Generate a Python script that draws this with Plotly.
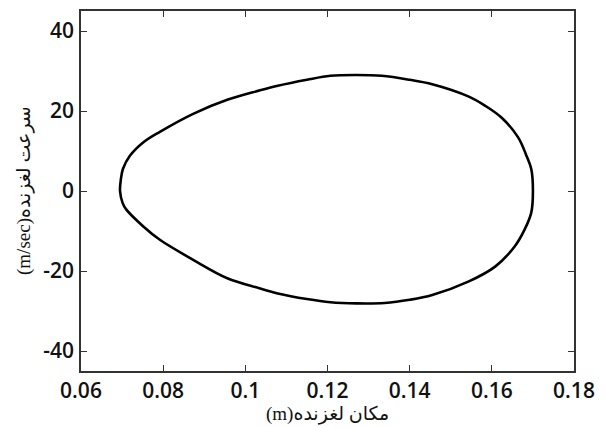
import plotly.graph_objects as go

# Phase portrait data (slider position [m], slider velocity [m/s])
position = [0.0695, 0.0697, 0.0702, 0.0719, 0.0752, 0.0792, 0.0873, 0.0956, 0.1034, 0.1079,
            0.1150, 0.1207, 0.1270, 0.1332, 0.1400, 0.1455, 0.1544, 0.1584, 0.1624, 0.1664,
            0.1684, 0.1696, 0.1700, 0.1696, 0.1680, 0.1656, 0.1608, 0.1544, 0.1455, 0.1400,
            0.1339, 0.1270, 0.1207, 0.1150, 0.1079, 0.1034, 0.0956, 0.0873, 0.0792, 0.0751,
            0.0710, 0.0701, 0.0695]
velocity = [0, 2.9, 5.5, 8.8, 12.2, 14.8, 19.3, 22.8, 25.1, 26.3,
            27.8, 28.8, 29.0, 28.8, 27.8, 26.7, 23.6, 21.3, 18.3, 13.4,
            8.9, 5.5, 0, -5.4, -9.6, -13.8, -18.9, -22.6, -26.0, -27.2,
            -28.0, -28.1, -27.8, -27.0, -25.6, -24.3, -21.8, -17.2, -12.2, -8.8,
            -4.6, -2.9, 0]

x_ticks = [0.06, 0.08, 0.1, 0.12, 0.14, 0.16, 0.18]
x_tick_labels = ["0.06", "0.08", "0.1", "0.12", "0.14", "0.16", "0.18"]
y_ticks = [-40, -20, 0, 20, 40]
y_tick_labels = ["-40", "-20", "0", "20", "40"]

x_title = "(m)مکان لغزنده"
y_title = "(m/sec)سرعت لغزنده"

fig = go.Figure()
fig.add_trace(go.Scatter(
    x=position, y=velocity, mode="lines",
    line=dict(color="black", width=2.6, shape="spline", smoothing=1.0),
    showlegend=False, hoverinfo="skip",
))

tick_font = dict(family="Open Sans, DejaVu Sans, sans-serif", size=21, color="#111111", weight=600)
title_font = dict(family="Liberation Serif, DejaVu Sans, serif", size=19, color="#111111")

axis_common = dict(
    showline=True, linecolor="#333333", linewidth=1.5, mirror="ticks",
    ticks="inside", ticklen=6, tickwidth=1.2, tickcolor="#333333",
    showgrid=False, zeroline=False, automargin=False,
    tickfont=tick_font,
)

fig.update_xaxes(range=[0.06, 0.18], tickvals=x_ticks, ticktext=x_tick_labels,
                 ticklabelstandoff=0, **axis_common)
fig.update_yaxes(range=[-45, 45], tickvals=y_ticks, ticktext=y_tick_labels,
                 ticklabelstandoff=1, **axis_common)

fig.add_annotation(text=x_title, xref="paper", yref="paper", x=0.5, y=0,
                   xanchor="center", yanchor="top", yshift=-30, showarrow=False,
                   font=title_font)
fig.add_annotation(text=y_title, xref="paper", yref="paper", x=0, y=0.5,
                   xanchor="center", yanchor="middle", xshift=-57, textangle=-90,
                   showarrow=False, font=title_font)

# The page body adds an 8px offset; size the figure to fill the remaining window.
fig.update_layout(
    width=598, height=419,
    margin=dict(l=73, r=32, t=3, b=56),
    paper_bgcolor="white", plot_bgcolor="white",
)

fig.write_html("out.html")
